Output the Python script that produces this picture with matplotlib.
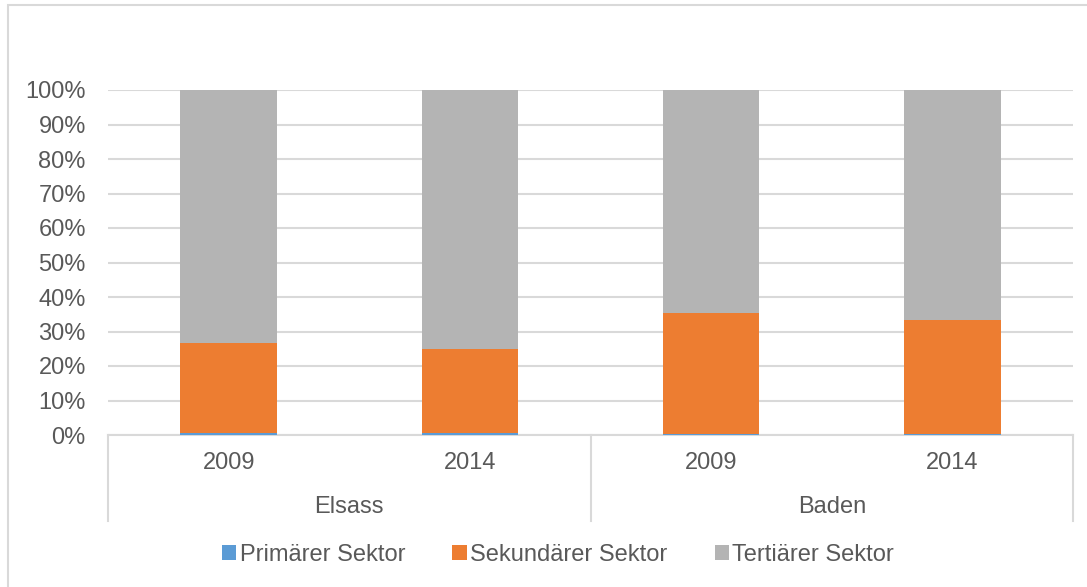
"""Stacked sector shares, Elsass vs Baden."""

import matplotlib.pyplot as plt
from matplotlib.lines import Line2D
from matplotlib.patches import Rectangle
from matplotlib.transforms import blended_transform_factory

plt.rcParams["font.family"] = ["Liberation Sans", "DejaVu Sans"]

regions = ["Elsass", "Baden"]
years = ["2009", "2014", "2009", "2014"]
primary = [0.7, 0.7, 0.3, 0.3]
secondary = [26.0, 24.2, 35.2, 33.1]
tertiary = [100 - p - s for p, s in zip(primary, secondary)]

colors = {"Primärer Sektor": "#5B9BD5", "Sekundärer Sektor": "#ED7D31", "Tertiärer Sektor": "#B4B4B4"}
text_color = "#595959"
line_color = "#D9D9D9"
fs = 17

fig = plt.figure(figsize=(10.87, 5.87), dpi=100)
W, H = 1087, 587
x0, x1, y0, y1 = 108, 1073, 435, 90
ax = fig.add_axes([x0 / W, 1 - y0 / H, (x1 - x0) / W, (y0 - y1) / H])

pos = list(range(len(years)))
bottom2 = primary
bottom3 = [p + s for p, s in zip(primary, secondary)]
ax.bar(pos, primary, width=0.4, color=colors["Primärer Sektor"], label="Primärer Sektor", zorder=3)
ax.bar(pos, secondary, width=0.4, bottom=bottom2, color=colors["Sekundärer Sektor"],
       label="Sekundärer Sektor", zorder=3)
ax.bar(pos, tertiary, width=0.4, bottom=bottom3, color=colors["Tertiärer Sektor"],
       label="Tertiärer Sektor", zorder=3)

ax.set_xlim(-0.5, len(years) - 0.5)
ax.set_ylim(0, 100)
ax.set_yticks(range(0, 101, 10))
ax.set_yticklabels([f"{v}%" for v in range(0, 101, 10)])
ax.yaxis.grid(True, color=line_color, linewidth=1.5, zorder=0)
ax.tick_params(axis="y", length=0, pad=16, labelsize=fs, labelcolor=text_color)
ax.set_xticks([])
for side in ["left", "right", "top"]:
    ax.spines[side].set_visible(False)
ax.spines["bottom"].set_color(line_color)
ax.spines["bottom"].set_linewidth(1.5)

# two-level category axis
trans = blended_transform_factory(ax.transData, fig.transFigure)
for i, year in enumerate(years):
    ax.text(i, 1 - 463 / H, year, transform=trans, ha="center", va="center",
            fontsize=fs, color=text_color)
for j, region in enumerate(regions):
    ax.text(2 * j + 0.5, 1 - 507 / H, region, transform=trans, ha="center", va="center",
            fontsize=fs, color=text_color)
for xs in [x0, (x0 + x1) / 2, x1]:
    fig.add_artist(Line2D([xs / W, xs / W], [1 - y0 / H, 1 - 521 / H],
                          color=line_color, linewidth=1.5))

# chart border
fig.add_artist(Rectangle((8 / W, -0.05), 1.1, 1 - 5 / H + 0.05, fill=False,
                         edgecolor=line_color, linewidth=1.5))

handles, labels = ax.get_legend_handles_labels()
fig.legend(handles, labels, loc="center", bbox_to_anchor=(558 / W, 1 - 555 / H), ncol=3,
           frameon=False, fontsize=fs, labelcolor=text_color, handlelength=0.6,
           handleheight=0.6, handletextpad=0.15, columnspacing=2.0)

fig.savefig("out.png", dpi=100)
